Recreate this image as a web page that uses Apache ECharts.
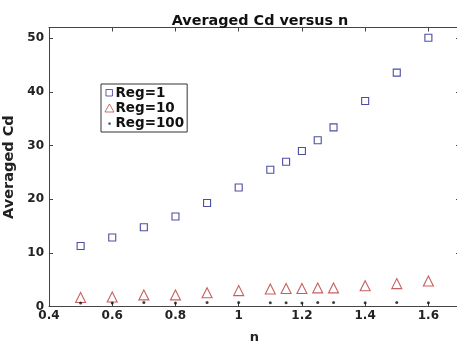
<html>
<head>
<meta charset="utf-8">
<style>
  *{box-sizing:border-box;}
  body,html{margin:0;padding:0;width:100%;height:100%;background:#fff;}
  #chart{width:457px;height:345px;}
</style>
<script src="https://cdn.jsdelivr.net/npm/echarts@6/dist/echarts.min.js"></script>
</head>
<body>
<div id="chart"></div>
<script>
// n values
var nValues = [0.5, 0.6, 0.7, 0.8, 0.9, 1.0, 1.1, 1.15, 1.2, 1.25, 1.3, 1.4, 1.5, 1.6];
// averaged Cd per Reynolds number
var reg1 = [11.3, 12.9, 14.8, 16.8, 19.3, 22.2, 25.5, 27.0, 29.0, 31.0, 33.4, 38.3, 43.6, 50.1];
var reg10 = [1.7, 1.8, 2.2, 2.2, 2.6, 3.0, 3.3, 3.4, 3.4, 3.5, 3.5, 3.9, 4.3, 4.8];
var reg100 = [0.7, 0.7, 0.8, 0.7, 0.8, 0.8, 0.75, 0.75, 0.7, 0.8, 0.8, 0.75, 0.8, 0.75];
var xTicks = [0.4, 0.6, 0.8, 1, 1.2, 1.4, 1.6];

function pairs(ys){
    var out = [];
    for(var i=0;i<nValues.length;i++){
        out.push([nValues[i], ys[i]]);
    }
    return out;
}

var font = 'DejaVu Sans';
var chart = echarts.init(document.getElementById('chart'), null, {renderer:'canvas'});

var axisText = {color:'#222', fontFamily:font, fontWeight:'bold', fontSize:12};

// legend icons: the M0,0 M10,10 moves keep every icon in the same 10x10 box
var iconSquare = 'path://M0,0 M10,10 M1.5,1.5 L8,1.5 L8,8 L1.5,8 Z';
var iconTri = 'path://M0,0 M10,10 M5,1 L9.5,9 L0.5,9 Z';
var iconDot = 'path://M0,0 M10,10 M4,4.5 L6.2,4.5 L6.2,6.7 L4,6.7 Z';

var option = {
    animation:false,
    backgroundColor:'#fff',
    title:{
        text:'Averaged Cd versus n',
        left:255, top:9,
        textAlign:'center',
        textStyle:{fontFamily:font, fontWeight:'bold', fontSize:14.4, color:'#111'}
    },
    legend:{
        orient:'vertical',
        left:101, top:84,
        padding:[2,3,2,3],
        itemGap:1,
        itemWidth:10, itemHeight:10,
        borderColor:'#333', borderWidth:1,
        backgroundColor:'#fff',
        itemStyle:{borderWidth:0.9},
        textStyle:{fontFamily:font, fontWeight:'bold', fontSize:13.5, color:'#111', padding:[0,0,0,-4]},
        data:[
            {name:'Reg=1', icon:iconSquare},
            {name:'Reg=10', icon:iconTri},
            {name:'Reg=100', icon:iconDot}
        ]
    },
    grid:{left:49, right:-3, top:27.5, bottom:38.3, outerBoundsMode:'none', containLabel:false},
    xAxis:[{
        type:'value', min:0.4, max:1.7, interval:0.2,
        name:'n', nameLocation:'middle', nameGap:24,
        nameTextStyle:Object.assign({}, axisText, {fontSize:13}),
        axisLine:{onZero:false, lineStyle:{color:'#444', width:1}},
        axisTick:{inside:true, length:4, lineStyle:{color:'#444'}},
        axisLabel:Object.assign({margin:3, showMaxLabel:false, formatter:function(v){
            return xTicks.indexOf(Math.round(v*10)/10) >= 0 ? String(Math.round(v*10)/10) : '';
        }}, axisText),
        splitLine:{show:false}
    },{
        type:'value', position:'top', min:0.4, max:1.7, interval:0.2,
        axisLine:{onZero:false, lineStyle:{color:'#444', width:1}},
        axisTick:{inside:true, length:4, lineStyle:{color:'#444'}},
        axisLabel:{show:false},
        splitLine:{show:false}
    }],
    yAxis:[{
        type:'value', min:0, max:52, interval:10,
        name:'Averaged Cd', nameLocation:'middle', nameGap:26,
        nameTextStyle:Object.assign({}, axisText, {fontSize:14.5}),
        axisLine:{show:true, onZero:false, lineStyle:{color:'#444', width:1}},
        axisTick:{show:true, inside:true, length:4, lineStyle:{color:'#444'}},
        axisLabel:Object.assign({margin:5, showMaxLabel:false}, axisText),
        splitLine:{show:false}
    },{
        type:'value', position:'right', min:0, max:52, interval:10,
        axisLine:{show:true, onZero:false, lineStyle:{color:'#444', width:1}},
        axisTick:{show:true, inside:true, length:4, lineStyle:{color:'#444'}},
        axisLabel:{show:false},
        splitLine:{show:false}
    }],
    series:[{
        name:'Reg=1', type:'scatter', symbol:'rect', symbolSize:7,
        itemStyle:{color:'#fff', borderColor:'#22228a', borderWidth:1.1},
        data:pairs(reg1)
    },{
        name:'Reg=10', type:'scatter', symbol:'triangle', symbolSize:10,
        itemStyle:{color:'#fff', borderColor:'#b83838', borderWidth:1.1},
        data:pairs(reg10)
    },{
        name:'Reg=100', type:'scatter', symbol:'circle', symbolSize:3,
        itemStyle:{color:'#111'},
        data:pairs(reg100)
    }]
};

chart.setOption(option);
</script>
</body>
</html>
